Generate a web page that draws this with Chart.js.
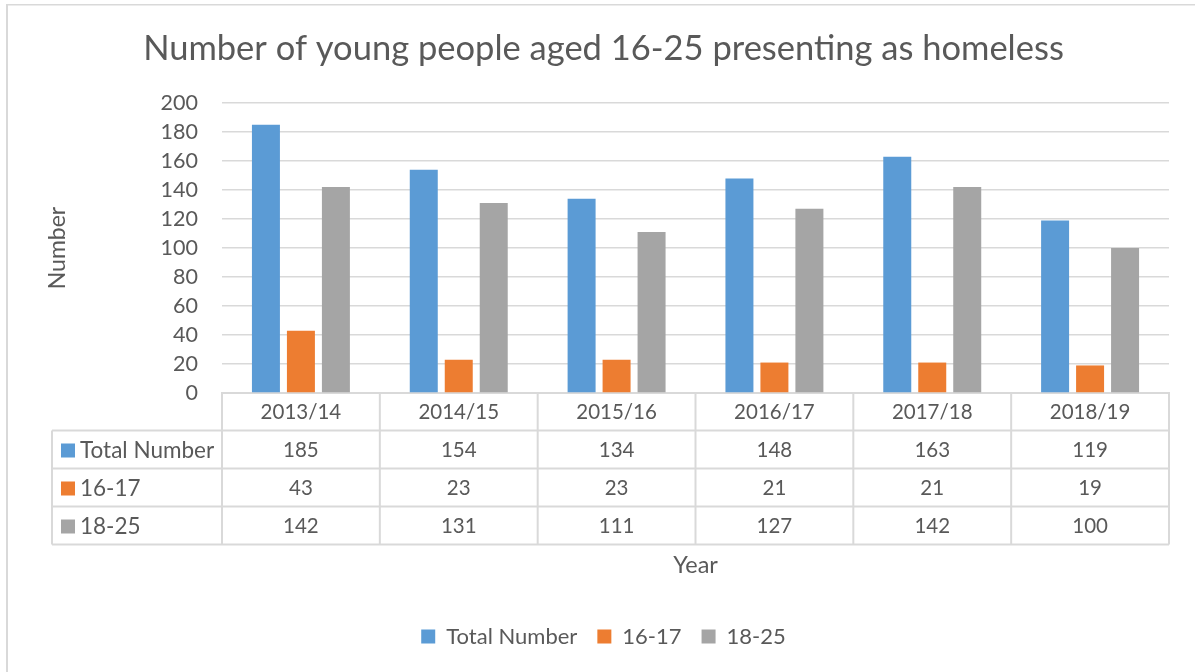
<!DOCTYPE html>
<html>
<head>
<meta charset="utf-8">
<script src="https://cdn.jsdelivr.net/npm/chart.js@4.4.1/dist/chart.umd.min.js"></script>
<style>
html,body{margin:0;padding:0;background:#fff;}
#wrap{width:1195px;height:672px;position:relative;}
</style>
</head>
<body>
<div id="wrap"><canvas id="c" width="1195" height="672"></canvas></div>
<script>
// ---- data ----
const categories = ['2013/14', '2014/15', '2015/16', '2016/17', '2017/18', '2018/19'];
const totalNumber = [185, 154, 134, 148, 163, 119];
const age16to17 = [43, 23, 23, 21, 21, 19];
const age18to25 = [142, 131, 111, 127, 142, 100];
const seriesLabels = ['Total Number', '16-17', '18-25'];
const chartTitle = 'Number of young people aged 16-25 presenting as homeless';
const yAxisTitle = 'Number';
const xAxisTitle = 'Year';

const TEXT = '#595959';
const LINE = '#d9d9d9';
const FONT = 'Lato';
const colors = ['#5B9BD5', '#ED7D31', '#A5A5A5'];

const framePlugin = {
  id: 'frame',
  beforeDraw(chart) {
    const ctx = chart.ctx;
    ctx.save();
    ctx.fillStyle = '#fff';
    ctx.fillRect(0, 0, chart.width, chart.height);
    ctx.fillStyle = LINE;
    ctx.fillRect(6, 4, 2, chart.height - 4);
    ctx.fillRect(6, 4, chart.width - 6, 1.5);
    ctx.restore();
  }
};

const tablePlugin = {
  id: 'dataTable',
  afterDraw(chart) {
    const ctx = chart.ctx;
    const x = chart.scales.x;
    const n = categories.length;
    const colW = (x.right - x.left) / n;
    const top = x.top;
    const headerH = 37.5;
    const rowH = 38;
    const labelLeft = 52;
    const ds = chart.data.datasets;
    const bottom = top + headerH + ds.length * rowH;
    ctx.save();
    ctx.strokeStyle = LINE;
    ctx.lineWidth = 2;
    const line = (x1, y1, x2, y2) => { ctx.beginPath(); ctx.moveTo(x1, y1); ctx.lineTo(x2, y2); ctx.stroke(); };
    for (let i = 0; i <= n; i++) {
      const px = x.left + i * colW;
      line(px, top, px, bottom);
    }
    for (let r = 0; r <= ds.length; r++) {
      const py = top + headerH + r * rowH;
      line(labelLeft, py, x.right, py);
    }
    line(labelLeft, top + headerH, labelLeft, bottom);

    ctx.fillStyle = TEXT;
    ctx.font = '20.5px ' + FONT;
    ctx.textAlign = 'center';
    ctx.textBaseline = 'middle';
    categories.forEach((c, i) => {
      ctx.fillText(c, x.getPixelForValue(i), top + headerH / 2 + 1);
    });
    ds.forEach((d, r) => {
      const cy = top + headerH + r * rowH + rowH / 2 + 1;
      ctx.fillStyle = d.backgroundColor;
      ctx.fillRect(labelLeft + 9, cy - 7, 14, 14);
      ctx.fillStyle = TEXT;
      ctx.textAlign = 'left';
      ctx.font = '22.5px ' + FONT;
      ctx.fillText(d.label, labelLeft + 28, cy);
      ctx.textAlign = 'center';
      ctx.font = '20.5px ' + FONT;
      d.data.forEach((v, i) => {
        ctx.fillText(String(v), x.getPixelForValue(i), cy);
      });
    });
    ctx.restore();
  }
};

const seriesData = [totalNumber, age16to17, age18to25];

new Chart(document.getElementById('c'), {
  type: 'bar',
  data: {
    labels: categories,
    datasets: seriesLabels.map((l, i) => ({
      label: l,
      data: seriesData[i],
      backgroundColor: colors[i],
      borderWidth: 0,
      categoryPercentage: 0.665,
      barPercentage: 0.8
    }))
  },
  options: {
    responsive: false,
    animation: false,
    devicePixelRatio: 1,
    layout: { padding: { top: 0, left: 38, right: 26, bottom: 14.5 } },
    plugins: {
      title: {
        display: true,
        text: chartTitle,
        color: TEXT,
        font: { family: FONT, size: 34.5, weight: 'normal' },
        padding: { top: 28, bottom: 33.6 }
      },
      legend: {
        position: 'bottom',
        labels: {
          color: TEXT,
          font: { family: FONT, size: 22 },
          boxWidth: 14,
          boxHeight: 14,
          padding: 20
        }
      },
      tooltip: { enabled: false }
    },
    scales: {
      x: {
        grid: { display: false },
        border: { display: true, color: LINE, width: 2 },
        ticks: { display: false },
        title: {
          display: true,
          text: xAxisTitle,
          color: TEXT,
          font: { family: FONT, size: 23.5 },
          padding: { top: 0, bottom: 26 }
        },
        afterFit(scale) { scale.height = 212.5; }
      },
      y: {
        min: 0,
        max: 200,
        ticks: {
          stepSize: 20,
          color: TEXT,
          font: { family: FONT, size: 21.5 },
          padding: 24
        },
        grid: { color: LINE, lineWidth: 1.5, drawTicks: false },
        border: { display: false },
        title: {
          display: true,
          text: yAxisTitle,
          color: TEXT,
          font: { family: FONT, size: 23 },
          padding: { top: 6, bottom: 0 }
        },
        afterFit(scale) { scale.width = 184; }
      }
    }
  },
  plugins: [framePlugin, tablePlugin]
});
</script>
</body>
</html>
